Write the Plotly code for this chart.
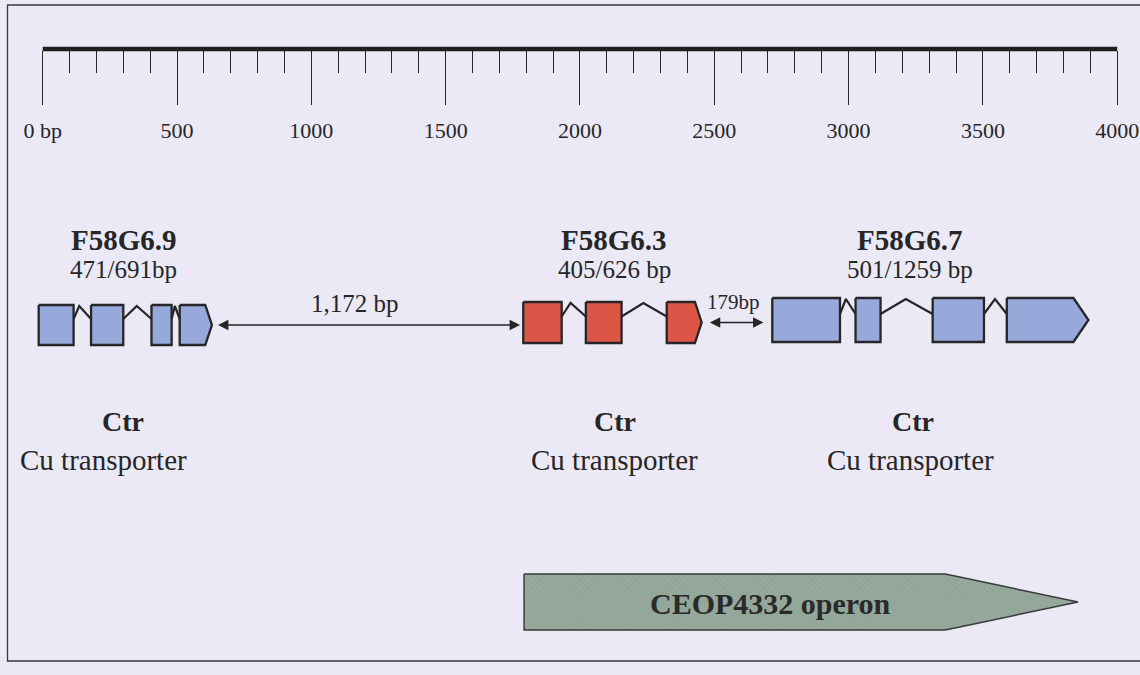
import plotly.graph_objects as go

# ---------------- data ----------------
ruler_major = [0, 500, 1000, 1500, 2000, 2500, 3000, 3500, 4000]
ruler_labels = ["0 bp", "500", "1000", "1500", "2000", "2500", "3000", "3500", "4000"]
ruler_minor = [v for v in range(100, 4000, 100) if v % 500 != 0]

gene_names = ["F58G6.9", "F58G6.3", "F58G6.7"]
gene_sizes = ["471/691bp", "405/626 bp", "501/1259 bp"]
gene_label_x = [302, 2127, 3229]
gene_func = ["Ctr", "Ctr", "Ctr"]
gene_func_x = [299, 2130, 3240]
gene_desc = ["Cu transporter", "Cu transporter", "Cu transporter"]
gene_desc_x = [226, 2127, 3229]

g9_exon_start = [-15, 180, 405, 510]
g9_exon_end = [115, 300, 480, 630]
g9_intron_peak = [136, 350, 492]

g3_exon_start = [1789, 2022, 2323]
g3_exon_end = [1932, 2155, 2453]
g3_intron_peak = [1965, 2236]

g7_exon_start = [2716, 3026, 3313, 3589]
g7_exon_end = [2968, 3119, 3504, 3893]
g7_intron_peak = [2990, 3213, 3545]

gap_start = [647, 2478]
gap_end = [1777, 2683]
gap_labels = ["1,172 bp", "179bp"]
gap_label_x = [1163, 2570]

operon_start = 1792
operon_body_end = 3359
operon_end = 3854
operon_label = "CEOP4332 operon"

# ---------------- style ----------------
BG = "#EAE9F5"
INK = "#262626"
BLUE = "#97A8DB"
RED = "#DB5646"
FONT = "Liberation Serif"

genes = [
    dict(s=g9_exon_start, e=g9_exon_end, p=g9_intron_peak, yc=325, h=20, tip=25, color=BLUE),
    dict(s=g3_exon_start, e=g3_exon_end, p=g3_intron_peak, yc=322.5, h=20.5, tip=25, color=RED),
    dict(s=g7_exon_start, e=g7_exon_end, p=g7_intron_peak, yc=320, h=22, tip=56, color=BLUE),
]

px_per_bp = (1117.2 - 42.7) / 4000.0
x_lo = -42.7 / px_per_bp
x_hi = (1140 - 42.7) / px_per_bp

fig = go.Figure()

for g in genes:
    yc, h = g["yc"], g["h"]
    n = len(g["s"])
    for i, (s, e) in enumerate(zip(g["s"], g["e"])):
        if i == n - 1:
            xs = [s, e - g["tip"], e, e - g["tip"], s, s]
            ys = [yc - h, yc - h, yc, yc + h, yc + h, yc - h]
        else:
            xs = [s, e, e, s, s]
            ys = [yc - h, yc - h, yc + h, yc + h, yc - h]
        fig.add_trace(go.Scatter(x=xs, y=ys, mode="lines", fill="toself",
                                 fillcolor=g["color"], line=dict(color=INK, width=2.3),
                                 hoverinfo="skip", showlegend=False))
    ix, iy = [], []
    for i, pk in enumerate(g["p"]):
        ix += [g["e"][i], pk, g["s"][i + 1], None]
        iy += [yc - 6, yc - h + 1, yc - 6, None]
    fig.add_trace(go.Scatter(x=ix, y=iy, mode="lines", line=dict(color=INK, width=2.2),
                             hoverinfo="skip", showlegend=False))

# operon arrow
ox = [operon_start, operon_body_end, operon_body_end + 37, operon_end,
      operon_body_end + 37, operon_body_end, operon_start, operon_start]
oy = [574, 574, 576, 602, 628, 630, 630, 574]
fig.add_trace(go.Scatter(x=ox, y=oy, mode="lines", fill="toself",
                         fillcolor="#93A79A",
                         fillpattern=dict(shape="x", bgcolor="#95A99C", fgcolor="#7E9387",
                                          size=4, solidity=0.25),
                         line=dict(color="#3a3a3a", width=1.5),
                         hoverinfo="skip", showlegend=False))

annotations = []
# gene titles
for name, size, x in zip(gene_names, gene_sizes, gene_label_x):
    annotations.append(dict(x=x, y=240, xref="x", yref="y", text="<b>%s</b>" % name,
                            showarrow=False, font=dict(family=FONT, size=29, color=INK)))
    annotations.append(dict(x=x, y=269, xref="x", yref="y", text=size,
                            showarrow=False, font=dict(family=FONT, size=25, color=INK)))
for f, fx, d, dx in zip(gene_func, gene_func_x, gene_desc, gene_desc_x):
    annotations.append(dict(x=fx, y=421, xref="x", yref="y", text="<b>%s</b>" % f,
                            showarrow=False, font=dict(family=FONT, size=28, color=INK)))
    annotations.append(dict(x=dx, y=460, xref="x", yref="y", text=d,
                            showarrow=False, font=dict(family=FONT, size=29, color=INK)))

# gap arrows
gap_y = [325, 322.5]
gap_label_y = [303, 302]
gap_font = [25, 21]
for s, e, lab, lx, y, ly, fs in zip(gap_start, gap_end, gap_labels, gap_label_x, gap_y, gap_label_y, gap_font):
    annotations.append(dict(x=e, y=y, ax=s, ay=y, xref="x", yref="y", axref="x", ayref="y",
                            text="", showarrow=True, arrowhead=2, arrowside="end+start",
                            arrowsize=1.3, arrowwidth=1.6, arrowcolor=INK,
                            standoff=0, startstandoff=0))
    annotations.append(dict(x=lx, y=ly, xref="x", yref="y", text=lab, showarrow=False,
                            font=dict(family=FONT, size=fs, color=INK)))

annotations.append(dict(x=(operon_start + operon_end) / 2 - 115, y=603, xref="x", yref="y",
                        text="<b>%s</b>" % operon_label, showarrow=False,
                        font=dict(family=FONT, size=30, color="#2a2a2a")))

shapes = [
    # frame
    dict(type="rect", xref="paper", yref="paper", x0=7.5 / 1140, x1=1.02,
         y0=1 - 661 / 675, y1=1 - 5 / 675, line=dict(color="#3a3a3a", width=1.3),
         fillcolor="rgba(0,0,0,0)", layer="below"),
    # ruler bar
    dict(type="line", xref="x", yref="y", x0=ruler_major[0], x1=ruler_major[-1], y0=49, y1=49,
         line=dict(color="#1e1e1e", width=4.5)),
]

fig.update_layout(
    width=1140, height=675,
    margin=dict(l=0, r=0, t=0, b=0),
    paper_bgcolor=BG, plot_bgcolor=BG,
    showlegend=False,
    annotations=annotations,
    shapes=shapes,
    xaxis=dict(range=[x_lo, x_hi], domain=[0, 1], anchor="free", position=1 - 50 / 675,
               side="bottom", showgrid=False, zeroline=False, showline=False,
               tickmode="array", tickvals=ruler_major, ticktext=ruler_labels,
               ticks="outside", ticklen=54, tickwidth=1.3, tickcolor=INK,
               ticklabelstandoff=7,
               tickfont=dict(family=FONT, size=22, color=INK),
               minor=dict(tickmode="array", tickvals=ruler_minor, ticks="outside",
                          ticklen=22, tickwidth=1.3, tickcolor=INK, showgrid=False),
               fixedrange=True),
    yaxis=dict(range=[675, 0], domain=[0, 1], visible=False, fixedrange=True),
)

fig.write_html(
    "out.html",
    config={"displayModeBar": False},
    post_script="document.body.style.margin='0';document.body.style.overflow='hidden';"
                "document.body.style.background='%s';" % BG,
)
